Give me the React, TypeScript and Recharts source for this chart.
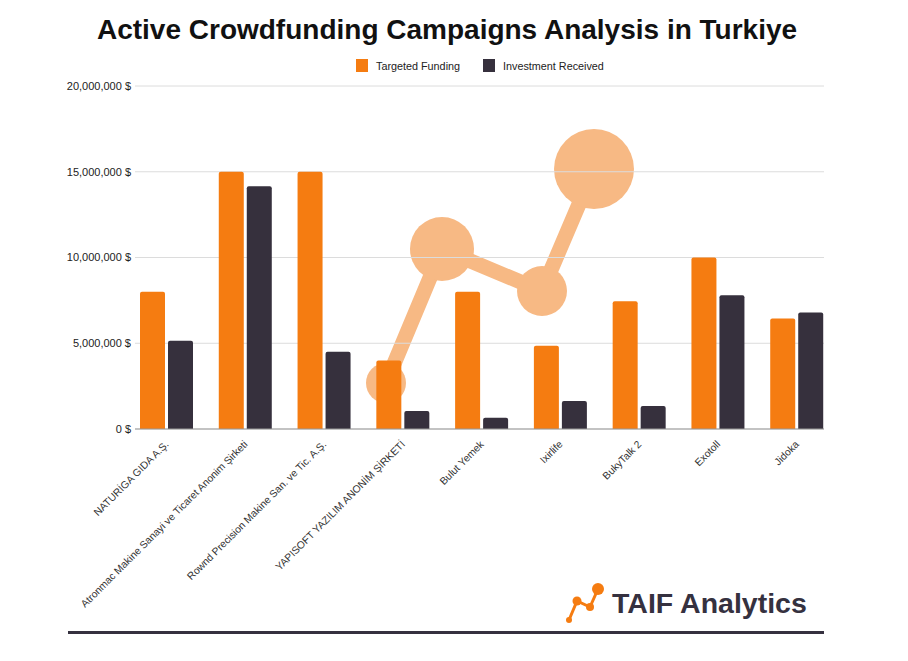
import React from 'react';
import { BarChart, Bar, XAxis, YAxis, CartesianGrid, Legend } from 'recharts';

// Dữ liệu
const companies = [
  'NATURİGA GIDA A.Ş.',
  'Atronmac Makine Sanayi ve Ticaret Anonim Şirketi',
  'Rownd Precision Makine San. ve Tic. A.Ş.',
  'YAPISOFT YAZILIM ANONİM ŞİRKETİ',
  'Bulut Yemek',
  'Ixirlife',
  'BukyTalk 2',
  'Exotoll',
  'Jidoka',
];
const targetedFunding = [8000000, 15000000, 15000000, 4000000, 8000000, 4850000, 7450000, 10000000, 6450000];
const investmentReceived = [5150000, 14150000, 4500000, 1050000, 650000, 1630000, 1340000, 7800000, 6800000];
const yTicks = [0, 5000000, 10000000, 15000000, 20000000];

const ORANGE = '#f57c11';
const DARK = '#36303d';
const FONT = '"Liberation Sans", Arial, Helvetica, sans-serif';

const data = companies.map((name, i) => ({
  name,
  targeted: targetedFunding[i],
  received: investmentReceived[i],
}));

const fmtMoney = (v: number) => `${v.toLocaleString('en-US')} $`;

// eslint-disable-next-line @typescript-eslint/no-explicit-any
const RotatedTick = ({ x, y, payload }: any) => (
  <g transform={`translate(${x + 3},${y + 8})`}>
    <text x={0} y={0} textAnchor="end" transform="rotate(-45)" fontSize={10.3} fill="#333" fontFamily={FONT}>
      {payload.value}
    </text>
  </g>
);

const LegendContent = () => (
  <div style={{ display: 'flex', alignItems: 'center', fontSize: 10.8, color: '#222', fontFamily: FONT }}>
    <span style={{ width: 12, height: 13, background: ORANGE, display: 'inline-block', marginRight: 8 }} />
    <span style={{ marginRight: 23 }}>Targeted Funding</span>
    <span style={{ width: 12, height: 13, background: DARK, display: 'inline-block', marginRight: 8 }} />
    <span>Investment Received</span>
  </div>
);

// Logo watermark phía sau biểu đồ (trang trí)
const Watermark = () => (
  <svg width={908} height={661} style={{ position: 'absolute', left: 0, top: 0 }}>
    <g fill="#f7b984" stroke="#f7b984">
      <polyline points="386,383 442,249 542,291 594,169" fill="none" strokeWidth={15} strokeLinejoin="round" />
      <circle cx={386} cy={383} r={20} stroke="none" />
      <circle cx={442} cy={249} r={32} stroke="none" />
      <circle cx={542} cy={291} r={25} stroke="none" />
      <circle cx={594} cy={169} r={40} stroke="none" />
    </g>
    {/* logo nhỏ */}
    <g fill={ORANGE} stroke={ORANGE}>
      <polyline points="569,620 577,601 590,607 598,589" fill="none" strokeWidth={3} />
      <circle cx={569} cy={620} r={3} stroke="none" />
      <circle cx={577} cy={601} r={4.5} stroke="none" />
      <circle cx={590} cy={607} r={4} stroke="none" />
      <circle cx={598} cy={589} r={6} stroke="none" />
    </g>
    <rect x={68} y={631} width={756} height={3} fill="#35313f" />
  </svg>
);

export default function App() {
  return (
    <div style={{ position: 'absolute', left: 0, top: 0, width: 908, height: 661, background: '#fff' }}>
      <Watermark />
      <div
        style={{
          position: 'absolute', top: 12, left: 0, width: 894, textAlign: 'center',
          fontFamily: FONT, fontWeight: 'bold', fontSize: 28, lineHeight: '36px', color: '#111',
        }}
      >
        Active Crowdfunding Campaigns Analysis in Turkiye
      </div>
      <div
        style={{
          position: 'absolute', top: 583, left: 612, fontFamily: FONT, fontWeight: 'bold',
          fontSize: 28.5, lineHeight: '40px', color: '#35313f',
        }}
      >
        TAIF Analytics
      </div>
      <div style={{ position: 'absolute', left: 0, top: 0 }}>
        <BarChart
          width={908}
          height={661}
          data={data}
          margin={{ top: 86, right: 84, bottom: 202, left: 0 }}
          barSize={25}
          barGap={3}
        >
          <CartesianGrid vertical={false} stroke="#dcdcdc" />
          <YAxis
            width={135}
            domain={[0, 20000000]}
            ticks={yTicks}
            tickFormatter={fmtMoney}
            axisLine={false}
            tickLine={false}
            tickSize={0}
            tickMargin={4}
            tick={{ fontSize: 11, fill: '#222', fontFamily: FONT }}
          />
          <XAxis
            dataKey="name"
            height={30}
            interval={0}
            padding={{ left: -8, right: -12 }}
            tickLine={false}
            axisLine={{ stroke: '#999' }}
            tick={<RotatedTick />}
          />
          <Legend
            verticalAlign="middle"
            align="center"
            layout="horizontal"
            content={<LegendContent />}
            wrapperStyle={{ top: 59, left: 356, width: 260, height: 14 }}
          />
          <Bar dataKey="targeted" name="Targeted Funding" fill={ORANGE} radius={[2, 2, 0, 0]} isAnimationActive={false} />
          <Bar dataKey="received" name="Investment Received" fill={DARK} radius={[2, 2, 0, 0]} isAnimationActive={false} />
        </BarChart>
      </div>
    </div>
  );
}
